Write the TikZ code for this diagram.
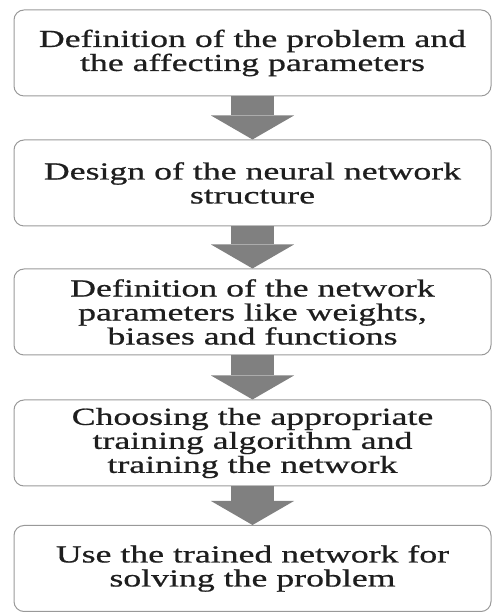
\documentclass[tikz,border=0pt]{standalone}
\usepackage{fontspec}
\setmainfont{Liberation Serif}[FakeStretch=1.46, FakeBold=0.7]
\usetikzlibrary{arrows.meta}
\definecolor{boxline}{HTML}{999999}
\definecolor{arrowgray}{HTML}{808080}
\definecolor{txt}{HTML}{1E1E1E}
\begin{document}
\begin{tikzpicture}[x=1pt,y=1pt]
\useasboundingbox (0,0) rectangle (493,612);
\begin{scope}[every node/.style = {draw=boxline, line width=1pt, rounded corners=10pt, minimum width=477pt, minimum height=86pt, align=center, text=txt, font=\fontsize{24.5}{24}\selectfont}]
\node (Def) at (252.5, 559) {Definition of the problem and\\the affecting parameters};
\node (Des) at (252.5, 429) {Design of the neural network\\structure};
\node (Par) at (252.5, 300) {Definition of the network\\parameters like weights,\\biases and functions};
\node (Trn) at (252.5, 169) {Choosing the appropriate\\training algorithm and\\training the network};
\node (Use) at (252.5, 43.5) {Use the trained network for\\solving the problem};
\end{scope}
\begin{scope}[every edge/.style = {draw=arrowgray, line width=43pt, -{Triangle[width=83pt, length=24pt, line width=0pt]}}]
\path (Def) edge (Des);
\path (Des) edge (Par);
\path (Par) edge (Trn);
\path (Trn) edge (Use);
\end{scope}
\end{tikzpicture}
\end{document}
